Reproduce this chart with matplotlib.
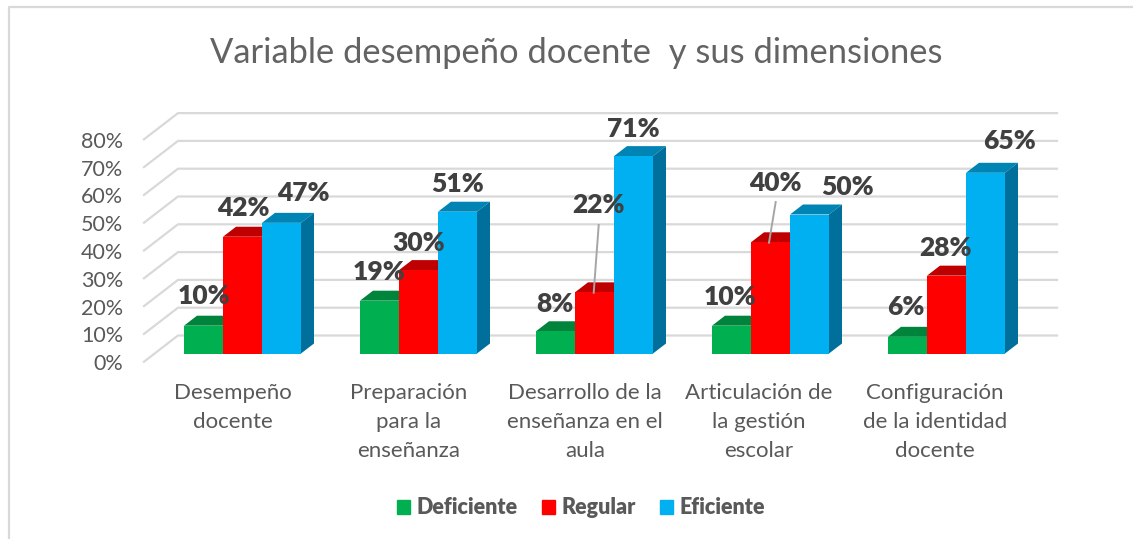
import matplotlib
matplotlib.use('Agg')
from matplotlib import pyplot as plt
from matplotlib.patches import Rectangle

categories = ['Desempeño\ndocente', 'Preparación\npara la\nenseñanza',
              'Desarrollo de la\nenseñanza en el\naula',
              'Articulación de\nla gestión\nescolar',
              'Configuración\nde la identidad\ndocente']
deficiente = [10, 19, 8, 10, 6]
regular = [42, 30, 22, 40, 28]
eficiente = [47, 51, 71, 50, 65]
series_names = ['Deficiente', 'Regular', 'Eficiente']
yticks = [0, 10, 20, 30, 40, 50, 60, 70, 80]

W, H = 1133, 539
# pixel scale of the category and percent axes
XS, X0 = 176.0, 242.5
YS, Y0 = 2.78, 353.5

plt.rcParams['font.family'] = ['Lato', 'DejaVu Sans']
fig = plt.figure(figsize=(W / 100, H / 100), dpi=100)
ax = fig.add_axes([0, 0, 1, 1])
ax.set_xlim((0 - X0) / XS, (W - X0) / XS)
ax.set_ylim((Y0 - H) / YS, Y0 / YS)
ax.axis('off')


def xd(p): return (p - X0) / XS
def yd(p): return (Y0 - p) / YS


# outer frame (no right or bottom side in the crop)
ax.plot([xd(9), xd(9), xd(1133)], [yd(539), yd(6.5), yd(6.5)], color='#d9d9d9', lw=1.6)

# walls
grid_c = '#d9d9d9'
for v in yticks:
    back = v + yd(335.5)
    front = v + yd(361.7)
    ax.plot([xd(144), xd(178), xd(1057)], [front, back, back], color=grid_c, lw=1.6, zorder=1)
    ax.text(xd(123), front - 0.9, '%d%%' % v, ha='right', va='center', fontsize=15.5, color='#595959')

# bars
bw = 39 / XS
ddx = 13 / XS
ddy = 10 / YS
styles = [('#00b050', '#00843c', '#00843c'),
          ('#ff0000', '#bf0000', '#bf0000'),
          ('#00b0f0', '#0084b4', '#006f9c')]
handles = []
for k, vals in enumerate([deficiente, regular, eficiente]):
    front_c, top_c, side_c = styles[k]
    for i, v in enumerate(vals):
        left = i + (k - 1.5) * bw
        ax.fill([left, left + ddx, left + bw + ddx, left + bw], [v, v + ddy, v + ddy, v],
                color=top_c, lw=0, zorder=3 + k)
        ax.fill([left + bw, left + bw + ddx, left + bw + ddx, left + bw], [0, ddy, v + ddy, v],
                color=side_c, lw=0, zorder=3 + k)
    ax.bar([i + (k - 1) * bw for i in range(5)], vals, bw, color=front_c, zorder=3 + k)
    handles.append(Rectangle((0, 0), 1, 1, color=front_c))

# data labels, placed by hand like in the original
label_x = [[204.5, 243.5, 303.5], [379.5, 418.5, 457.5], [554.5, 598.5, 633], [730.5, 775.5, 847.5], [906, 945.5, 1009.5]]
label_y = [[296, 208, 193], [272, 243, 184], [304, 205, 129], [297, 183, 187], [307, 248, 141]]
for i in range(5):
    for k, vals in enumerate([deficiente, regular, eficiente]):
        ax.text(xd(label_x[i][k]), yd(label_y[i][k]), '%d%%' % vals[i], ha='center', va='center',
                fontsize=19, fontweight='heavy', color='#404040', zorder=10)

# leader lines
ax.plot([xd(598.7), xd(593.7)], [yd(225), yd(292.7)], color='#a6a6a6', lw=1.4, zorder=9)
ax.plot([xd(775.7), xd(769)], [yd(202), yd(242.7)], color='#a6a6a6', lw=1.4, zorder=9)

# category labels
cat_x = [233, 409, 585, 759, 935]
for i, c in enumerate(categories):
    ax.text(xd(cat_x[i]), yd(383), c, ha='center', va='top', fontsize=16, color='#595959', linespacing=1.56)

ax.text(xd(576.5), yd(53), 'Variable desempeño docente  y sus dimensiones', ha='center', va='center',
        fontsize=24.8, color='#636363')

ax.legend(handles, series_names, ncol=3, loc='center', bbox_to_anchor=(581 / W, 1 - 508 / H),
          frameon=False, handlelength=0.62, handleheight=0.62, handletextpad=0.3, columnspacing=1.1,
          prop={'size': 15.5, 'weight': 'heavy'}, labelcolor='#595959')

fig.savefig('out.png', dpi=100)
